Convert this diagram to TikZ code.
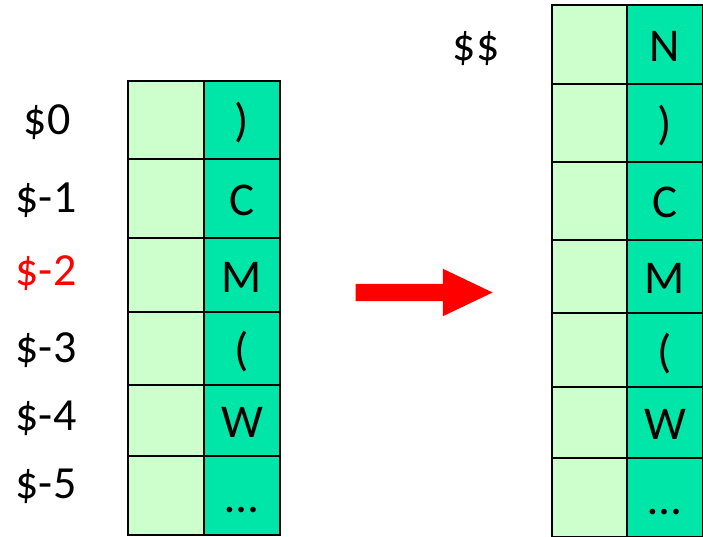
\documentclass[tikz,border=0pt]{standalone}
\usepackage{fontspec}
\setmainfont{Carlito}
\usetikzlibrary{shapes.arrows}

\definecolor{slotgreen}{HTML}{CCFFCC}
\definecolor{symgreen}{HTML}{00E6A9}

\begin{document}
\begin{tikzpicture}[x=1pt, y=-1pt,
  slot/.style = {draw=black, line width=1.5pt, fill=slotgreen, minimum width=76pt, inner sep=0pt},
  sym/.style = {draw=black, line width=1.5pt, fill=symgreen, minimum width=76pt, inner sep=0pt,
                font=\fontsize{47}{47}\selectfont, text height=34pt, text depth=0pt},
  addr/.style = {anchor=base, font=\fontsize{46}{46}\selectfont},
  ]
  \useasboundingbox (0,0) rectangle (703,537);

  % stack before the step
  \foreach \n/\top/\bot/\t in {0/81/159/{)}, 1/159/238/C, 2/238/312/M, 3/312/385/{(}, 4/385/456/W, 5/456/535/\dots}{
    \node[slot, minimum height=\bot-\top] (la\n) at (166,{(\top+\bot)/2}) {};
    \node[sym, minimum height=\bot-\top] (lb\n) at (242,{(\top+\bot)/2}) {\t};
  }
  \node[addr] (p0) at (47,135) {\$0};
  \node[addr] (p1) at (46,212) {\$-1};
  \node[addr, text=red] (p2) at (46,285) {\$-2};
  \node[addr] (p3) at (46,362) {\$-3};
  \node[addr] (p4) at (46,430) {\$-4};
  \node[addr] (p5) at (46,498) {\$-5};

  % stack after the step
  \foreach \n/\top/\bot/\t in {0/5/84/N, 1/84/162/{)}, 2/162/240/C, 3/240/313/M, 4/313/387/{(}, 5/387/458/W, 6/458/537/\dots}{
    \node[slot, minimum height=\bot-\top] (ra\n) at (590,{(\top+\bot)/2}) {};
    \node[sym, minimum height=\bot-\top] (rb\n) at (665,{(\top+\bot)/2}) {\t};
  }
  \node[addr] (pp) at (476,61) {\$\$};

  % red block arrow between the two stacks
  \node[single arrow, fill=red, draw=none, inner sep=0pt, text height=17pt, text depth=0pt,
        minimum height=137pt, single arrow head extend=15pt,
        single arrow tip angle=51] (step) at (415,292.5) {};
\end{tikzpicture}
\end{document}
